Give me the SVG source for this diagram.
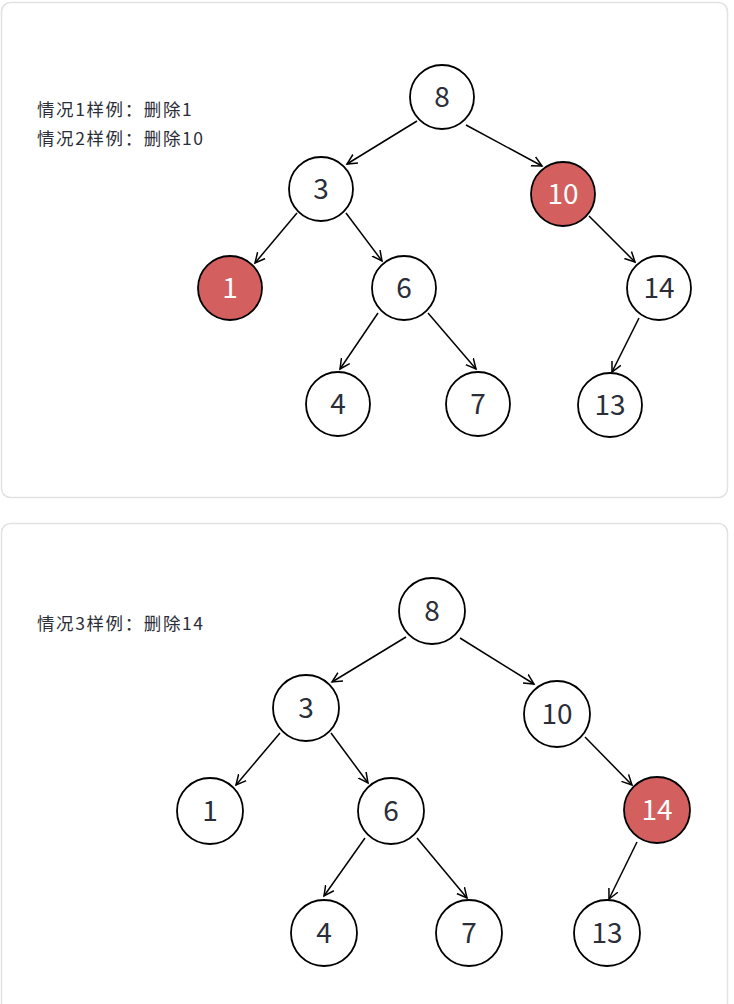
<svg xmlns="http://www.w3.org/2000/svg" width="734" height="1004" viewBox="0 0 734 1004">
<defs>
<marker id="arr" markerWidth="12" markerHeight="12" refX="10" refY="5" orient="auto" markerUnits="userSpaceOnUse" viewBox="0 0 12 10">
<path d="M0,0 L10,5 L0,10" fill="none" stroke="#000" stroke-width="1.5"/>
</marker>
<style>
.panel{fill:#fff;stroke:#e2e2e2;stroke-width:1.5}
.n{fill:#fff;stroke:#000;stroke-width:1.8}
.r{fill:#d35f5f;stroke:#000;stroke-width:1.8}
.t{font-family:"Noto Sans CJK SC","Noto Sans",sans-serif;font-size:28px;fill:#2b2e38;text-anchor:middle}
.tw{fill:#fff}
.lbl{font-family:"Noto Sans CJK SC","Noto Sans",sans-serif;font-size:17.5px;letter-spacing:1.6px;fill:#2b2e38}
.e{stroke:#000;stroke-width:1.5;fill:none;marker-end:url(#arr)}
</style>
</defs>
<rect width="734" height="1004" fill="#fff"/>
<rect class="panel" x="1.5" y="2.5" width="726" height="495" rx="9"/>
<rect class="panel" x="1.5" y="523.5" width="726" height="500" rx="9"/>

<g id="labels">
<text class="lbl" x="37" y="116">情况1样例：删除1</text>
<text class="lbl" x="37" y="145">情况2样例：删除10</text>
<text class="lbl" x="37" y="630">情况3样例：删除14</text>
</g>

<g id="connectors">
<line class="e" x1="417" y1="121" x2="347" y2="164"/>
<line class="e" x1="466" y1="125" x2="542" y2="166"/>
<line class="e" x1="297" y1="213" x2="255" y2="263"/>
<line class="e" x1="346" y1="213" x2="382" y2="261"/>
<line class="e" x1="378" y1="313" x2="340" y2="369"/>
<line class="e" x1="428" y1="313" x2="476" y2="369"/>
<line class="e" x1="589" y1="216" x2="635" y2="262"/>
<line class="e" x1="639" y1="318" x2="612" y2="372"/>

<line class="e" x1="406" y1="637" x2="332" y2="682"/>
<line class="e" x1="460" y1="638" x2="534" y2="684"/>
<line class="e" x1="280" y1="733" x2="236" y2="785"/>
<line class="e" x1="331" y1="733" x2="368" y2="783"/>
<line class="e" x1="365" y1="838" x2="324" y2="896"/>
<line class="e" x1="417" y1="838" x2="467" y2="898"/>
<line class="e" x1="585" y1="737" x2="632" y2="785"/>
<line class="e" x1="637" y1="842" x2="609" y2="899"/>
</g>

<g id="p1-n8"><circle class="n" cx="442" cy="97" r="32"/><text class="t" x="442" y="107">8</text></g>
<g id="p1-n3"><circle class="n" cx="321" cy="189" r="32"/><text class="t" x="321" y="199">3</text></g>
<g id="p1-n10"><circle class="r" cx="563" cy="194" r="32"/><text class="t tw" x="563" y="204">10</text></g>
<g id="p1-n1"><circle class="r" cx="230" cy="288" r="32"/><text class="t tw" x="230" y="298">1</text></g>
<g id="p1-n6"><circle class="n" cx="404" cy="288" r="32"/><text class="t" x="404" y="298">6</text></g>
<g id="p1-n14"><circle class="n" cx="659" cy="288" r="32"/><text class="t" x="659" y="298">14</text></g>
<g id="p1-n4"><circle class="n" cx="338" cy="404" r="32"/><text class="t" x="338" y="414">4</text></g>
<g id="p1-n7"><circle class="n" cx="478" cy="404" r="32"/><text class="t" x="478" y="414">7</text></g>
<g id="p1-n13"><circle class="n" cx="610" cy="405" r="32"/><text class="t" x="610" y="415">13</text></g>

<g id="p2-n8"><circle class="n" cx="432" cy="611" r="33"/><text class="t" x="432" y="621">8</text></g>
<g id="p2-n3"><circle class="n" cx="306" cy="708" r="33"/><text class="t" x="306" y="718">3</text></g>
<g id="p2-n10"><circle class="n" cx="557" cy="714" r="33"/><text class="t" x="557" y="724">10</text></g>
<g id="p2-n1"><circle class="n" cx="210" cy="811" r="33"/><text class="t" x="210" y="821">1</text></g>
<g id="p2-n6"><circle class="n" cx="391" cy="811" r="33"/><text class="t" x="391" y="821">6</text></g>
<g id="p2-n14"><circle class="r" cx="657" cy="810" r="33"/><text class="t tw" x="657" y="820">14</text></g>
<g id="p2-n4"><circle class="n" cx="324" cy="933" r="33"/><text class="t" x="324" y="943">4</text></g>
<g id="p2-n7"><circle class="n" cx="469" cy="933" r="33"/><text class="t" x="469" y="943">7</text></g>
<g id="p2-n13"><circle class="n" cx="607" cy="933" r="33"/><text class="t" x="607" y="943">13</text></g>
</svg>
